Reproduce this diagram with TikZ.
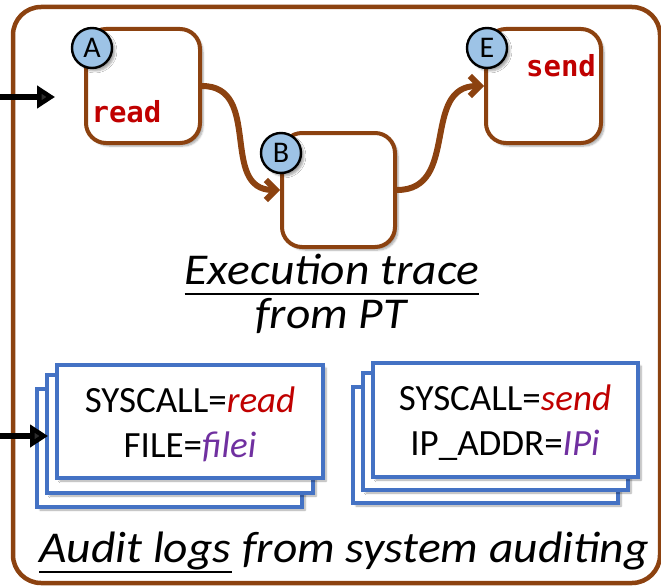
\documentclass[tikz,border=0pt]{standalone}
\usepackage{fontspec}
\setmainfont{Carlito}
\setmonofont{DejaVu Sans Mono}
\usetikzlibrary{arrows.meta,shadows.blur}
\definecolor{trace}{RGB}{140,66,16}
\definecolor{callred}{RGB}{192,0,0}
\definecolor{argpurple}{RGB}{112,48,160}
\definecolor{logblue}{RGB}{68,114,196}
\definecolor{badge}{RGB}{157,195,230}
% wide italic caption lettering
\newcommand{\widecap}[1]{\scalebox{1.08}[1]{#1}}

\begin{document}
\begin{tikzpicture}[x=1pt,y=-1pt,
  softshadow/.style={blur shadow={shadow xshift=3pt,shadow yshift=-3pt,shadow blur steps=6,shadow opacity=35}},
  block/.style={draw=trace,line width=4pt,fill=white,rounded corners=20pt,minimum width=114pt,minimum height=114pt,softshadow},
  badgenode/.style={circle,draw=black,line width=2.4pt,fill=badge,minimum size=40pt,inner sep=0pt,font=\fontsize{30}{30}\selectfont,softshadow},
  callname/.style={text=callred,font=\ttfamily\bfseries\fontsize{29}{29}\selectfont,inner sep=0pt,anchor=base},
  flow/.style={draw=trace,line width=6pt,-{Straight Barb[length=10pt,width=20pt]}},
  feed/.style={line width=6pt,-{Triangle[length=18pt,width=22pt]}},
  logsheet/.style={draw=logblue,line width=4.5pt,fill=white,softshadow},
  logtext/.style={font=\fontsize{37}{37}\selectfont,inner sep=0pt,anchor=base},
  caption/.style={font=\itshape\fontsize{44}{44}\selectfont,inner sep=0pt},
  ulrule/.style={line width=2.2pt}
]
\useasboundingbox (0,0) rectangle (661,586);

% outer frame
\draw[draw=trace,line width=4.5pt,rounded corners=28pt] (13,7) rectangle (660,583);

% trace blocks
\node[block] (boxA) at (143,86) {};
\node[block,minimum width=113pt] (boxB) at (338.5,190) {};
\node[block,minimum width=115pt] (boxE) at (543.5,86) {};

\node[callname] (readA) at (126.5,122) {read};
\node[callname] (sendE) at (561,77) {send};

% control flow between blocks
\draw[flow] (boxA.east) to[out=0,in=180,looseness=1.2] (boxB.west);
\draw[flow] (boxB.east) to[out=0,in=180,looseness=1.2] (boxE.west);

% block labels
\node[badgenode] (badgeA) at (92,48) {A};
\node[badgenode] (badgeB) at (281,153) {B};
\node[badgenode] (badgeE) at (487,48) {E};

% caption of the trace
\node[caption,anchor=base] (exec) at (332,284) {\widecap{Execution trace}};
\draw[ulrule] ([yshift=-10pt]exec.base west) -- ([yshift=-10pt]exec.base east);
\node[caption,anchor=base] (frompt) at (331,328) {\widecap{from PT}};

% audit log stacks
\draw[logsheet] (37,389) rectangle (302,507);
\draw[logsheet] (47,375) rectangle (313,493);
\node[logsheet,minimum width=266pt,minimum height=113pt] (logread) at (190,421.5) {};
\node[logtext] (callA) at (190,412) {SYSCALL=\textcolor{callred}{\itshape read}};
\node[logtext] (argA) at (190,457) {FILE=\textcolor{argpurple}{\itshape filei}};

\draw[logsheet] (353,387) rectangle (618,503);
\draw[logsheet] (363,373) rectangle (628,490);
\node[logsheet,minimum width=265pt,minimum height=114pt] (logsend) at (505.5,420) {};
\node[logtext] (callE) at (505,410) {SYSCALL=\textcolor{callred}{\itshape send}};
\node[logtext] (argE) at (505,455) {IP\_ADDR=\textcolor{argpurple}{\itshape IPi}};

% caption of the logs
\node[caption,anchor=base west] (audit) at (39,562) {\widecap{Audit logs}};
\draw[ulrule] ([yshift=-10pt]audit.base west) -- ([yshift=-10pt]audit.base east);
\node[caption,anchor=base west] (auditsrc) at (audit.base east) {\widecap{\ from system auditing}};

% inputs entering from the left
\coordinate (inTrace0) at (0,97);
\coordinate (inTrace1) at (55,97);
\coordinate (inLog0) at (0,436);
\coordinate (inLog1) at (48,436);
\draw[feed] (inTrace0) -- (inTrace1);
\draw[feed] (inLog0) -- (inLog1);
\end{tikzpicture}
\end{document}
